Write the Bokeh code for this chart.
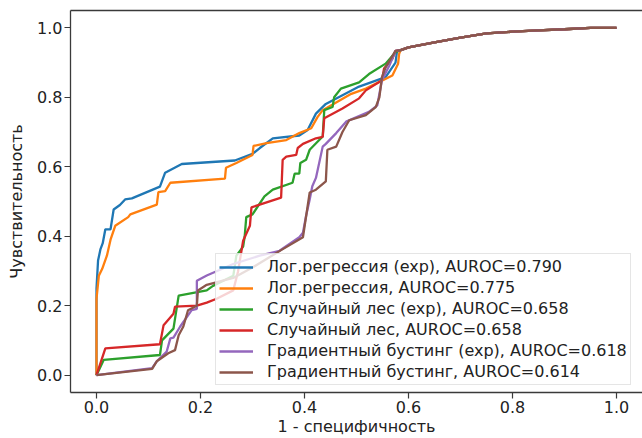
from bokeh.plotting import figure
from bokeh.models import Range1d, LinearAxis, FixedTicker, NumeralTickFormatter, Legend, LegendItem
from bokeh.embed import file_html
from bokeh.resources import INLINE

# ---- data ----
tail_x = [0.585, 0.60, 0.65, 0.70, 0.75, 0.80, 0.85, 0.90, 0.95, 1.0]
tail_y = [0.936, 0.944, 0.958, 0.972, 0.984, 0.989, 0.993, 0.996, 1.0, 1.0]

lr_exp_x = [0, 0, 0.003, 0.0077, 0.012, 0.017, 0.027, 0.033, 0.045, 0.055, 0.068, 0.122, 0.132, 0.164,
            0.266, 0.30, 0.314, 0.339, 0.39, 0.406, 0.422, 0.441, 0.473, 0.505, 0.556, 0.575, 0.578]
lr_exp_y = [0, 0.25, 0.33, 0.363, 0.38, 0.42, 0.42, 0.477, 0.49, 0.506, 0.509, 0.543, 0.583, 0.608,
            0.618, 0.637, 0.654, 0.682, 0.69, 0.706, 0.753, 0.781, 0.806, 0.831, 0.858, 0.90, 0.934]

lr_x = [0, 0, 0.0045, 0.011, 0.02, 0.027, 0.036, 0.061, 0.065, 0.116, 0.119, 0.132, 0.142, 0.247, 0.249,
        0.269, 0.30, 0.302, 0.327, 0.365, 0.39, 0.413, 0.425, 0.435, 0.49, 0.518, 0.569, 0.58, 0.582]
lr_y = [0, 0.22, 0.286, 0.306, 0.344, 0.39, 0.43, 0.455, 0.463, 0.491, 0.527, 0.53, 0.554, 0.566, 0.597,
        0.611, 0.634, 0.66, 0.668, 0.677, 0.697, 0.711, 0.743, 0.763, 0.81, 0.825, 0.863, 0.897, 0.925]

rf_exp_x = [0, 0.014, 0.122, 0.126, 0.148, 0.158, 0.212, 0.224, 0.263, 0.269, 0.282, 0.285, 0.288, 0.30,
            0.323, 0.339, 0.377, 0.381, 0.39, 0.392, 0.403, 0.41, 0.425, 0.435, 0.438, 0.454, 0.457,
            0.47, 0.505, 0.524, 0.556, 0.575]
rf_exp_y = [0, 0.044, 0.058, 0.10, 0.134, 0.229, 0.244, 0.257, 0.286, 0.344, 0.37, 0.40, 0.455, 0.463,
            0.515, 0.534, 0.554, 0.58, 0.58, 0.611, 0.62, 0.649, 0.672, 0.687, 0.763, 0.772, 0.80,
            0.825, 0.843, 0.867, 0.897, 0.93]

rf_x = [0, 0.017, 0.122, 0.129, 0.148, 0.151, 0.193, 0.212, 0.231, 0.263, 0.272, 0.282, 0.295, 0.298,
        0.355, 0.358, 0.365, 0.384, 0.387, 0.397, 0.422, 0.435, 0.438, 0.473, 0.505, 0.518, 0.549,
        0.553, 0.569, 0.575]
rf_y = [0, 0.077, 0.089, 0.144, 0.177, 0.197, 0.20, 0.209, 0.22, 0.244, 0.297, 0.387, 0.43, 0.483,
        0.511, 0.62, 0.629, 0.634, 0.654, 0.666, 0.682, 0.686, 0.74, 0.768, 0.797, 0.82, 0.849,
        0.883, 0.911, 0.934]

gb_exp_x = [0, 0.107, 0.116, 0.135, 0.142, 0.148, 0.161, 0.183, 0.193, 0.193, 0.212, 0.263, 0.314,
            0.352, 0.39, 0.397, 0.403, 0.41, 0.415, 0.422, 0.435, 0.441, 0.461, 0.48, 0.524, 0.54,
            0.549, 0.563, 0.575]
gb_exp_y = [0, 0.02, 0.04, 0.068, 0.106, 0.108, 0.14, 0.187, 0.191, 0.272, 0.287, 0.32, 0.344,
            0.358, 0.397, 0.41, 0.458, 0.506, 0.544, 0.568, 0.658, 0.666, 0.697, 0.73, 0.758, 0.777,
            0.85, 0.891, 0.934]

gb_x = [0, 0.107, 0.116, 0.138, 0.151, 0.158, 0.167, 0.176, 0.193, 0.195, 0.212, 0.263, 0.30, 0.355,
        0.397, 0.41, 0.422, 0.441, 0.444, 0.461, 0.473, 0.486, 0.518, 0.537, 0.544, 0.549, 0.556, 0.575]
gb_y = [0, 0.018, 0.04, 0.063, 0.072, 0.115, 0.14, 0.187, 0.20, 0.244, 0.26, 0.28, 0.31, 0.36,
        0.397, 0.526, 0.534, 0.558, 0.649, 0.658, 0.70, 0.734, 0.749, 0.772, 0.80, 0.858, 0.886, 0.934]

series_labels = [
    "Лог.регрессия (exp), AUROC=0.790",
    "Лог.регрессия, AUROC=0.775",
    "Случайный лес (exp), AUROC=0.658",
    "Случайный лес, AUROC=0.658",
    "Градиентный бустинг (exp), AUROC=0.618",
    "Градиентный бустинг, AUROC=0.614",
]
series_x = [lr_exp_x, lr_x, rf_exp_x, rf_x, gb_exp_x, gb_x]
series_y = [lr_exp_y, lr_y, rf_exp_y, rf_y, gb_exp_y, gb_y]
colors = ["#1f77b4", "#ff7f0e", "#2ca02c", "#d62728", "#9467bd", "#8c564b"]
ticks = [0.0, 0.2, 0.4, 0.6, 0.8, 1.0]
x_title = "1 - специфичность"
y_title = "Чувствительность"

FONT = "DejaVu Sans"
TXT = "#222222"
SPINE = "#3a3a3a"

p = figure(width=642, height=438, output_backend="svg", toolbar_location=None,
           x_range=Range1d(-0.05, 1.05), y_range=Range1d(-0.05, 1.05),
           min_border_left=70, min_border_right=0, min_border_top=10, min_border_bottom=44,
           background_fill_color="white", border_fill_color="white")
p.outline_line_color = None
p.grid.visible = False

for ax in (p.xaxis[0], p.yaxis[0]):
    ax.ticker = FixedTicker(ticks=ticks)
    ax.formatter = NumeralTickFormatter(format="0.0")
    ax.minor_tick_line_color = None
    ax.major_tick_in = 0
    ax.major_tick_out = 6
    ax.major_tick_line_color = SPINE
    ax.major_tick_line_width = 1.2
    ax.axis_line_color = SPINE
    ax.axis_line_width = 1.3
    ax.major_label_text_font = FONT
    ax.major_label_text_font_size = "16px"
    ax.major_label_text_color = TXT
    ax.axis_label_text_font = FONT
    ax.axis_label_text_font_size = "16px"
    ax.axis_label_text_font_style = "normal"
    ax.axis_label_text_color = TXT

p.xaxis[0].axis_label = x_title
p.xaxis[0].major_label_standoff = 2
p.xaxis[0].axis_label_standoff = 1
p.yaxis[0].axis_label = y_title
p.yaxis[0].major_label_standoff = 2
p.yaxis[0].axis_label_standoff = 8

top = LinearAxis(ticker=FixedTicker(ticks=[]), major_tick_out=0, major_tick_in=0,
                 minor_tick_line_color=None, major_label_text_font_size="0px",
                 axis_line_color=SPINE, axis_line_width=1.3)
p.add_layout(top, "above")

items = []
for xs, ys, c, lab in zip(series_x, series_y, colors, series_labels):
    r = p.line(xs + tail_x, ys + tail_y, line_color=c, line_width=2.3)
    items.append(LegendItem(label=lab, renderers=[r]))

legend = Legend(items=items, location=(145, 7),
                label_text_font=FONT, label_text_font_size="16px", label_text_color=TXT,
                glyph_width=34, glyph_height=18, label_height=18, spacing=2, padding=3,
                label_standoff=14, margin=0,
                border_line_color="#cccccc", border_line_width=1,
                background_fill_color="white", background_fill_alpha=0.8)
p.add_layout(legend, "center")

open("out.html", "w").write(file_html(p, INLINE))
